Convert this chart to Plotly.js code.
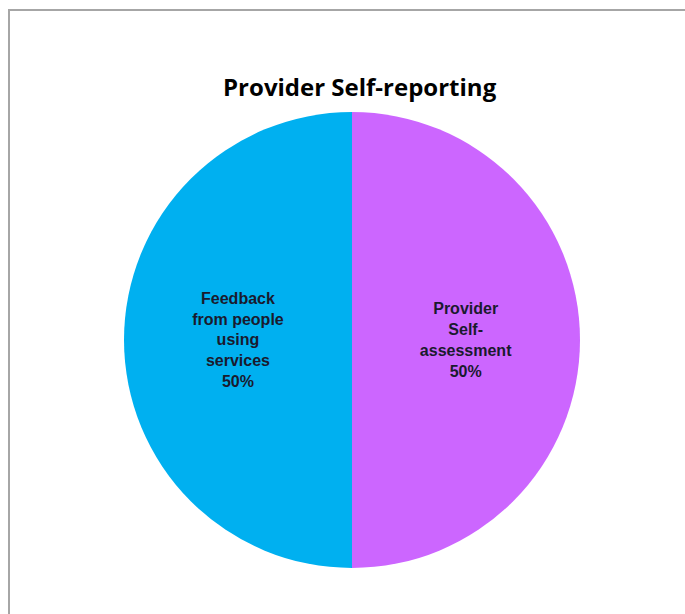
<!DOCTYPE html>
<html>
<head>
<meta charset="utf-8">
<script src="https://cdn.plot.ly/plotly-3.0.1.min.js"></script>
<style>
html,body{margin:0;padding:0;background:#fff;}
#wrap{position:relative;width:685px;height:614px;overflow:hidden;}
#frame{position:absolute;left:8px;top:9px;width:700px;height:700px;border-top:2px solid #a6a6a6;border-left:2px solid #a6a6a6;pointer-events:none;}
#chart{position:absolute;left:0;top:0;width:685px;height:614px;}
</style>
</head>
<body>
<div id="wrap">
<div id="chart"></div>
<div id="frame"></div>
</div>
<script>
var categories = ["Feedback<br>from people<br>using<br>services", "Provider<br>Self-<br>assessment"];
var values = [50, 50];
var colors = ["#00B0F0", "#CC66FF"];
var titleText = "Provider Self-reporting";

var W = 685, H = 614;
var cx = 352, cy = 340, r = 228;

var trace = {
  type: "pie",
  labels: categories,
  values: values,
  sort: false,
  direction: "clockwise",
  rotation: 180,
  marker: {colors: colors, line: {width: 0}},
  texttemplate: "%{label}<br>%{percent:.0%}",
  textposition: "inside",
  insidetextorientation: "horizontal",
  textfont: {family: "Liberation Sans, Arial, sans-serif", size: 16, color: "#1a1a2e", weight: "bold"},
  hoverinfo: "label+percent",
  showlegend: false,
  domain: {
    x: [(cx - r) / W, (cx + r) / W],
    y: [(H - (cy + r)) / H, (H - (cy - r)) / H]
  }
};

var layout = {
  width: W,
  height: H,
  margin: {l: 0, r: 0, t: 0, b: 0},
  paper_bgcolor: "#ffffff",
  title: {
    text: "<b>" + titleText + "</b>",
    x: 0.525,
    xanchor: "center",
    y: 1 - 88 / H,
    yanchor: "middle",
    font: {family: "Open Sans, Liberation Sans, sans-serif", size: 24, color: "#000000"}
  },
  showlegend: false
};

Plotly.newPlot("chart", [trace], layout, {displayModeBar: false, staticPlot: true});
</script>
</body>
</html>
